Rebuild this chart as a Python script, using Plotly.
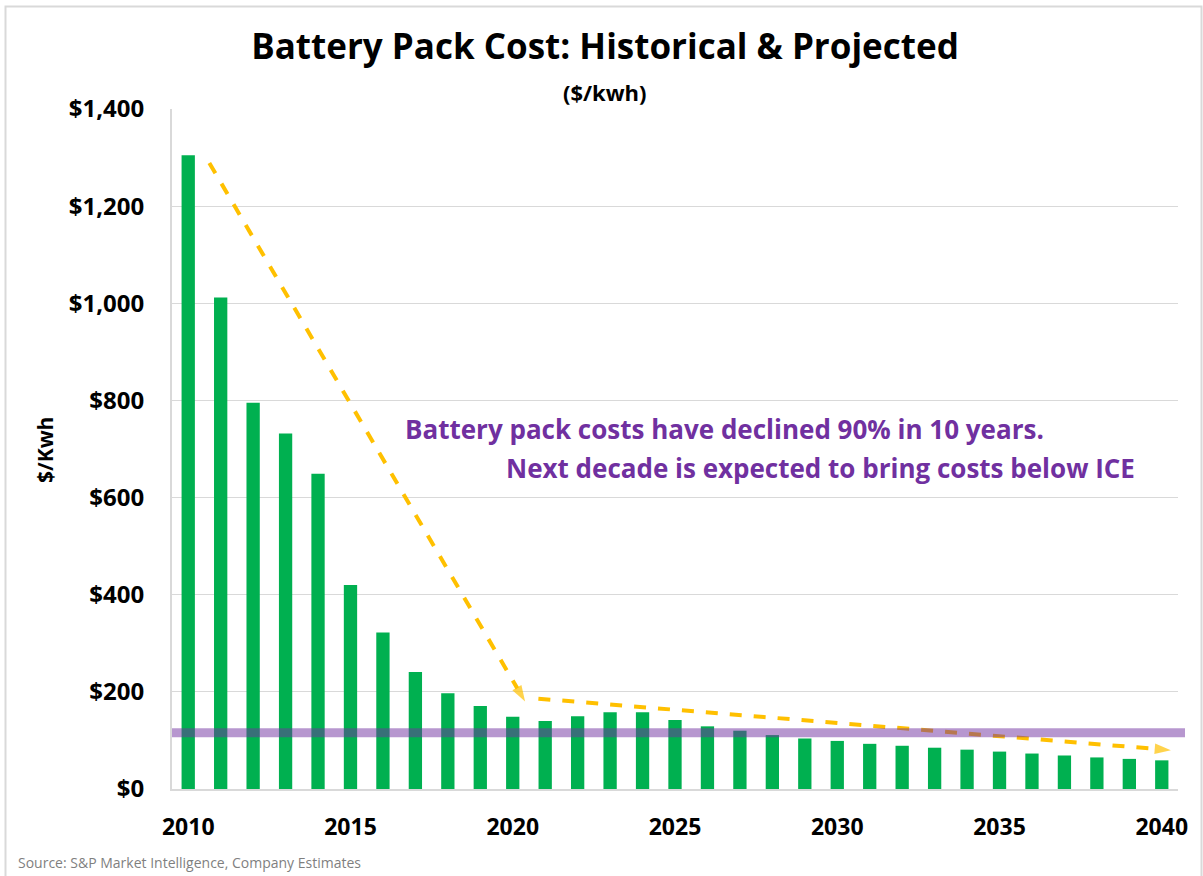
import plotly.graph_objects as go

# ---- data ----
years = list(range(2010, 2041))
cost = [1305, 1012, 795, 732, 649, 420, 322, 241, 197, 171, 149, 140, 150, 158, 158,
        142, 129, 120, 111, 104, 99, 93, 89, 85, 81, 77, 73, 69, 65, 62, 59]
ice_cost = 116
x_ticks = [2010, 2015, 2020, 2025, 2030, 2035, 2040]
y_ticks = [0, 200, 400, 600, 800, 1000, 1200, 1400]
y_tick_labels = ["$0", "$200", "$400", "$600", "$800", "$1,000", "$1,200", "$1,400"]

arrow1_x = [2010.65, 2020.38]
arrow1_y = [1289, 180]
arrow2_x = [2020.79, 2040.28]
arrow2_y = [186, 80]

title_text = "Battery Pack Cost: Historical & Projected"
subtitle_text = "($/kwh)"
y_title = "$/Kwh"
note_line1 = "Battery pack costs have declined 90% in 10 years."
note_line2 = "Next decade is expected to bring costs below ICE"
source_text = "Source: S&P Market Intelligence, Company Estimates"

FONT = "Open Sans"
GREEN = "#00B050"
YELLOW = "#FFC000"
PURPLE = "#7030A0"
GRID = "#D9D9D9"

W, H = 1203, 876
L, R, T, B = 172, 25, 109, 87
pw, ph = W - L - R, H - T - B


def px(x):
    return (x - L) / pw


def py(y):
    return (H - B - y) / ph


fig = go.Figure()

fig.add_trace(go.Bar(
    x=years, y=cost, marker=dict(color=GREEN, line=dict(width=0)),
    width=0.41, showlegend=False, hoverinfo="x+y",
))

for ax_, ay_ in [(arrow1_x, arrow1_y), (arrow2_x, arrow2_y)]:
    fig.add_trace(go.Scatter(
        x=ax_, y=ay_, mode="lines+markers",
        line=dict(color=YELLOW, width=4, dash="dash"),
        marker=dict(symbol="arrow", size=[0, 17], angleref="previous",
                    color=YELLOW, line=dict(width=0)),
        showlegend=False, hoverinfo="skip",
    ))

# ICE reference band
fig.add_shape(type="line", xref="paper", yref="y", x0=0, x1=(1185 - L) / pw,
              y0=ice_cost, y1=ice_cost,
              line=dict(color="rgba(112,48,160,0.5)", width=9), layer="above")

# outer frame
fig.add_shape(type="rect", xref="paper", yref="paper",
              x0=px(5.5), x1=px(1201.5), y0=py(890), y1=py(6.5),
              line=dict(color="#D9D9D9", width=2), fillcolor="rgba(0,0,0,0)")

fig.update_layout(
    width=W, height=H,
    margin=dict(l=L, r=R, t=T, b=B),
    paper_bgcolor="white", plot_bgcolor="white",
    font=dict(family=FONT, color="black"),
    title=dict(text=title_text, x=605 / W, xanchor="center", y=1 - 47 / H,
               yanchor="middle", yref="container",
               font=dict(family=FONT, size=35, weight="bold", color="black")),
    bargap=0.59,
)

fig.update_xaxes(
    range=[2009.5, 2040.5], tickvals=x_ticks, ticks="", showgrid=False,
    showline=True, linecolor=GRID, linewidth=2, zeroline=False,
    tickfont=dict(family=FONT, size=23, weight="bold", color="black"),
    ticklabelstandoff=16,
)
fig.update_yaxes(
    range=[0, 1400], tickvals=y_ticks, ticktext=y_tick_labels,
    showgrid=True, gridcolor=GRID, gridwidth=1, zeroline=False,
    showline=True, linecolor=GRID, linewidth=2, ticks="",
    tickfont=dict(family=FONT, size=24, weight="bold", color="black"),
    ticklabelstandoff=21,
)

common = dict(xref="paper", yref="paper", showarrow=False,
              xanchor="center", yanchor="middle")
annos = [
    dict(text=subtitle_text, x=px(605), y=py(92),
         font=dict(family=FONT, size=22, weight="bold", color="black"), **common),
    dict(text=y_title, x=px(45), y=py(450), textangle=-90,
         font=dict(family=FONT, size=21, weight="bold", color="black"), **common),
    dict(text=note_line1, x=px(724), y=py(429),
         font=dict(family=FONT, size=26, weight="bold", color=PURPLE), **common),
    dict(text=note_line2, x=px(820), y=py(468),
         font=dict(family=FONT, size=26, weight="bold", color=PURPLE), **common),
    dict(text=source_text, x=px(16), y=py(862), xref="paper", yref="paper",
         showarrow=False, xanchor="left", yanchor="middle",
         font=dict(family=FONT, size=14, color="#7F7F7F")),
]
fig.update_layout(annotations=annos)

fig.write_html("out.html", config={"displayModeBar": False},
               post_script="document.body.style.margin='0';")
